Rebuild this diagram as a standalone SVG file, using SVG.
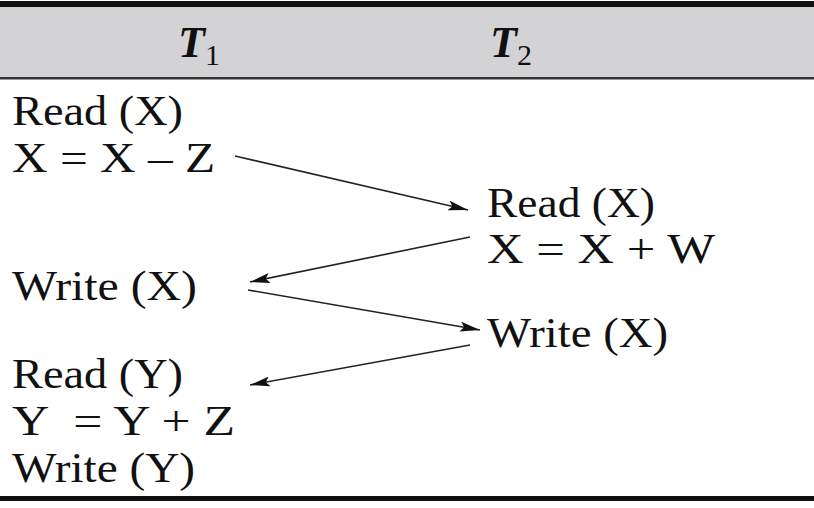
<svg xmlns="http://www.w3.org/2000/svg" width="814" height="508" viewBox="0 0 814 508">
<style>
text{font-family:"Liberation Serif","Times New Roman",serif;font-size:43px;fill:#111}
.h{font-weight:bold;font-style:italic;font-size:44px}
.sub{font-weight:normal;font-style:normal;font-size:30px}
.c line{stroke:#222;stroke-width:1.6;marker-end:url(#ah)}
</style>
<defs>
<marker id="ah" viewBox="0 0 20 10" refX="20" refY="5" markerWidth="20" markerHeight="10" markerUnits="userSpaceOnUse" orient="auto">
<path d="M0,0 L20,5 L0,10 L4,5 Z" fill="#111"/>
</marker>
</defs>
<rect x="0" y="0" width="814" height="508" fill="#fff"/>
<rect x="0" y="6" width="814" height="72" fill="#d3d3d5"/>
<rect x="0" y="1" width="814" height="6" fill="#111"/>
<rect x="0" y="77" width="814" height="2.5" fill="#333"/>
<rect x="0" y="496" width="814" height="5" fill="#111"/>
<g id="h1"><text x="178" y="57" class="h">T<tspan class="sub" dy="8">1</tspan></text></g>
<g id="h2"><text x="490" y="57" class="h">T<tspan class="sub" dy="8">2</tspan></text></g>
<g id="t1a"><text x="12" y="125" textLength="171" lengthAdjust="spacingAndGlyphs">Read (X)</text><text x="12" y="172" textLength="203" lengthAdjust="spacingAndGlyphs">X = X – Z</text></g>
<g id="t2a"><text x="487" y="217" textLength="168" lengthAdjust="spacingAndGlyphs">Read (X)</text><text x="487" y="263" textLength="228" lengthAdjust="spacingAndGlyphs">X = X + W</text></g>
<g id="t1b"><text x="12" y="300" textLength="185" lengthAdjust="spacingAndGlyphs">Write (X)</text></g>
<g id="t2b"><text x="487" y="347" textLength="181" lengthAdjust="spacingAndGlyphs">Write (X)</text></g>
<g id="t1c"><text x="12" y="388" textLength="171" lengthAdjust="spacingAndGlyphs">Read (Y)</text><text x="12" y="435" xml:space="preserve" textLength="223" lengthAdjust="spacingAndGlyphs">Y  = Y + Z</text><text x="12" y="482" textLength="183" lengthAdjust="spacingAndGlyphs">Write (Y)</text></g>
<g class="c" id="connectors">
<line x1="235" y1="156" x2="468" y2="210"/>
<line x1="470" y1="237" x2="250" y2="282"/>
<line x1="248" y1="290" x2="480" y2="330"/>
<line x1="470" y1="345" x2="250" y2="385"/>
</g>
</svg>
